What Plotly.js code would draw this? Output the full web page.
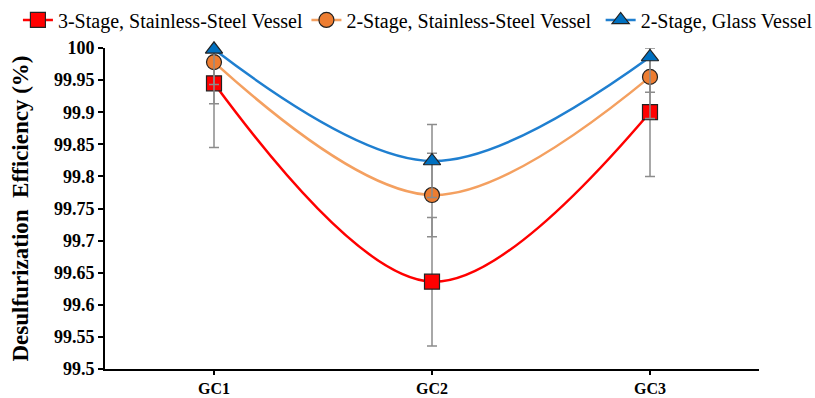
<!DOCTYPE html>
<html><head><meta charset="utf-8">
<script src="https://cdn.plot.ly/plotly-3.0.1.min.js"></script>
<style>body{margin:0;background:#fff}#c{width:815px;height:398px}</style>
</head><body><div id="c"></div>
<script>
const categories = ["GC1", "GC2", "GC3"];
const stage3Steel = [99.945, 99.636, 99.900];
const stage3SteelErr = [0.10, 0.10, 0.10];
const stage2Steel = [99.978, 99.771, 99.955];
const stage2SteelErr = [0.065, 0.065, 0.065];
const stage2Glass = [99.998, 99.824, 99.986];
const stage2GlassErr = [0.055, 0.057, 0.055];
const seriesNames = ["3-Stage, Stainless-Steel Vessel", "2-Stage, Stainless-Steel Vessel", "2-Stage, Glass Vessel"];
const yTicks = [99.5, 99.55, 99.6, 99.65, 99.7, 99.75, 99.8, 99.85, 99.9, 99.95, 100];
const SERIF = "'Liberation Serif', 'Times New Roman', serif";

function tr(y, err, name, color, sym, lineCol, leg) {
  return {
    x: categories, y: y, name: name, type: 'scatter', mode: 'lines+markers', legend: leg,
    line: {color: lineCol, width: 2.5, shape: 'spline', smoothing: 1},
    marker: {symbol: sym, size: 15, color: color, line: {color: '#222', width: 1.2}},
    error_y: {type: 'data', array: err, visible: true, color: '#8c8c8c', thickness: 1.5, width: 5},
    cliponaxis: false
  };
}
const data = [
  tr(stage3Steel, stage3SteelErr, seriesNames[0], '#ff0000', 'square', '#ff0000', 'legend'),
  tr(stage2Steel, stage2SteelErr, seriesNames[1], '#ed7d31', 'circle', '#f4a060', 'legend2'),
  tr(stage2Glass, stage2GlassErr, seriesNames[2], '#0070c0', 'triangle-up', '#1f7fd0', 'legend3')
];
function leg(x) {
  return {orientation: 'h', x: x, xref: 'container', xanchor: 'left', y: 0.999, yref: 'container', yanchor: 'top',
          font: {size: 20, family: SERIF}, bgcolor: 'rgba(0,0,0,0)'};
}
const layout = {
  width: 815, height: 398,
  margin: {l: 105, r: 56, t: 48, b: 29},
  paper_bgcolor: '#fff', plot_bgcolor: '#fff',
  font: {family: SERIF, color: '#000'},
  showlegend: true,
  legend: leg(0.022), legend2: leg(0.376), legend3: leg(0.737),
  xaxis: {
    type: 'category', range: [-0.5, 2.5], showgrid: false, zeroline: false,
    showline: true, linecolor: '#000', linewidth: 2,
    ticks: 'outside', ticklen: 4, tickwidth: 1.5, tickcolor: '#000',
    tickfont: {size: 16, family: SERIF, weight: 'bold'}
  },
  yaxis: {
    range: [99.5, 100], tickvals: yTicks, ticktext: yTicks.map(String),
    showgrid: false, zeroline: false, showline: true, linecolor: '#000', linewidth: 2,
    ticks: 'outside', ticklen: 5, tickwidth: 1.5, tickcolor: '#000',
    tickfont: {size: 18, family: SERIF, weight: 'bold'},
    title: {text: 'Desulfurization  Efficiency (%)', font: {size: 23, family: SERIF, weight: 'bold'}, standoff: 19}
  }
};
Plotly.newPlot('c', data, layout, {displayModeBar: false});
</script></body></html>
